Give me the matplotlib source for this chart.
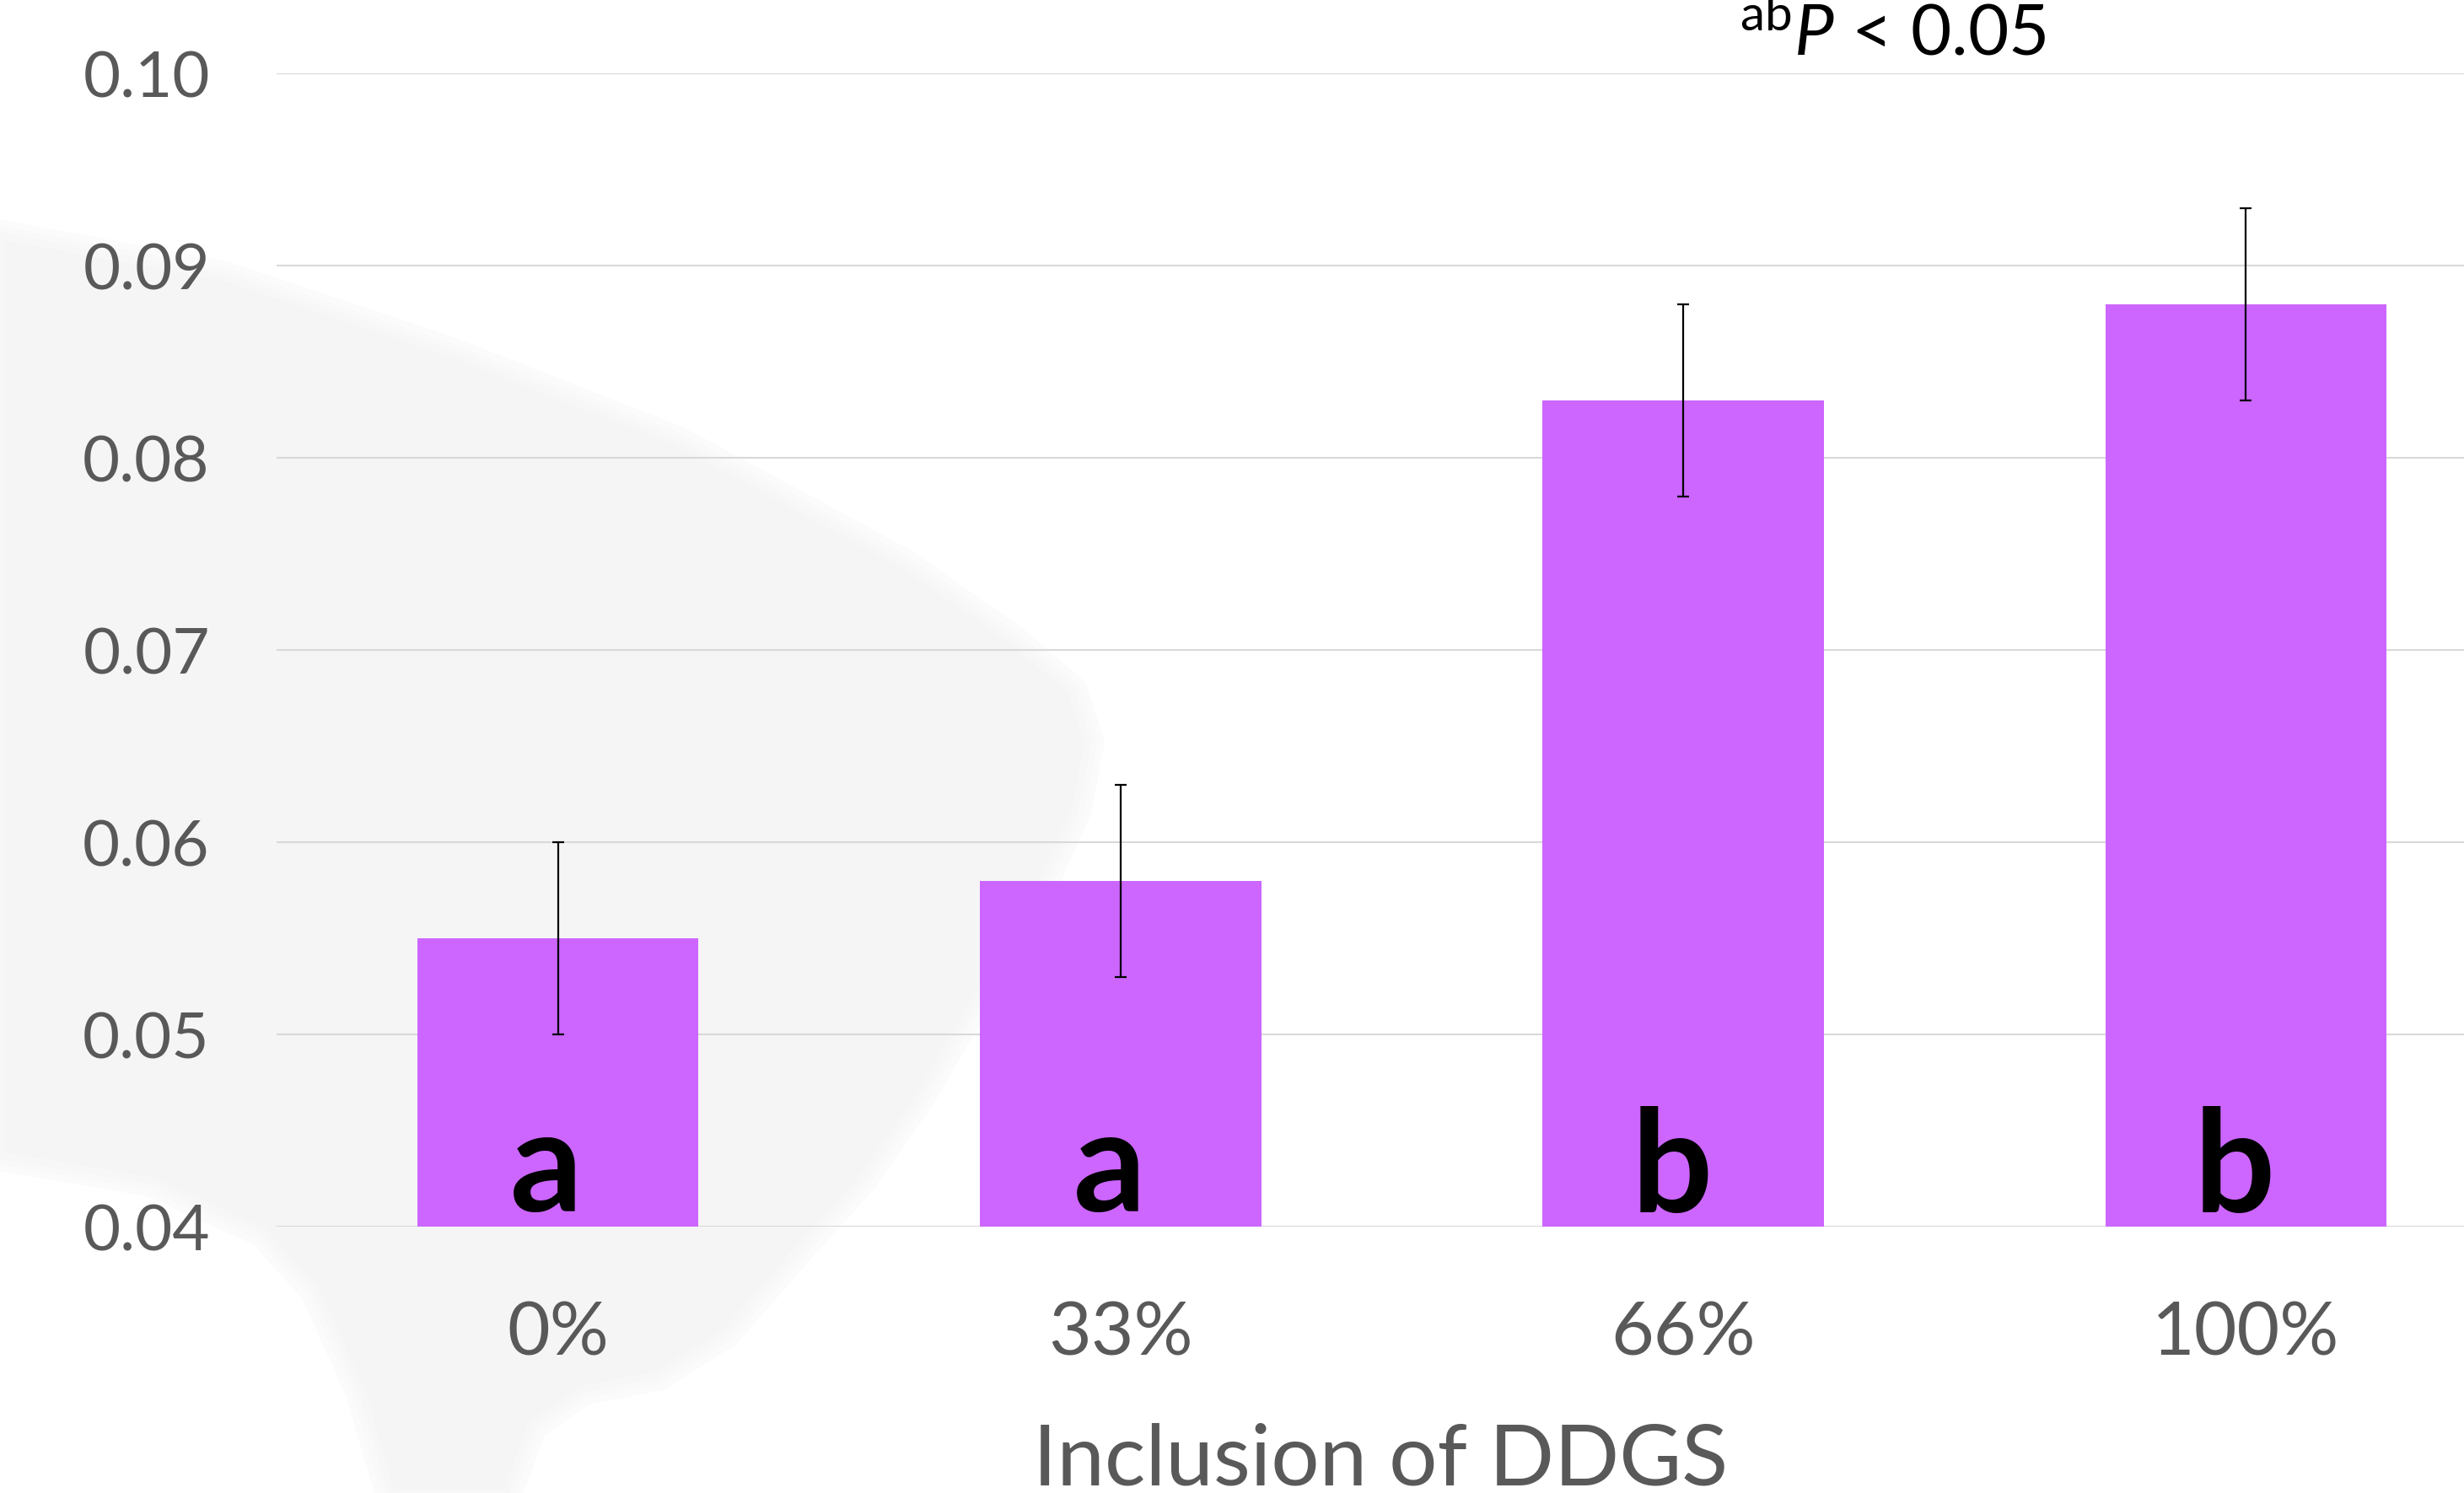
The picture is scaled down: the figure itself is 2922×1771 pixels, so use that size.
import matplotlib
matplotlib.use("Agg")
import matplotlib.pyplot as plt
from matplotlib.patches import Polygon

plt.rcParams['font.family'] = ['Lato', 'DejaVu Sans']
plt.rcParams['mathtext.fontset'] = 'custom'
plt.rcParams['mathtext.rm'] = 'Lato'
plt.rcParams['mathtext.it'] = 'Lato:italic'

# data
categories = ['0%', '33%', '66%', '100%']
means = [0.055, 0.058, 0.083, 0.088]
errors = [0.005, 0.005, 0.005, 0.005]
letters = ['a', 'a', 'b', 'b']
yticks = [0.04, 0.05, 0.06, 0.07, 0.08, 0.09, 0.10]

W, H = 2922, 1771
fig = plt.figure(figsize=(W / 100, H / 100), dpi=100)
fig.patch.set_facecolor('white')

# faint grey shape in the background (pixel outline, y from top)
shape_px = [(0, 280), (268, 330), (536, 420), (804, 525), (1071, 670), (1200, 760),
            (1270, 820), (1290, 880), (1275, 960), (1230, 1060), (1160, 1180),
            (1090, 1300), (1020, 1400), (950, 1477), (860, 1580), (780, 1630),
            (690, 1648), (630, 1690), (600, 1771), (464, 1771), (429, 1650),
            (375, 1530), (312, 1460), (179, 1400), (0, 1370)]
pts = [(x / W, 1 - y / H) for x, y in shape_px]
# soft edge: a few wide, lighter outlines under the fill
for lw, c in [(28, '#fbfbfb'), (16, '#f9f9f9'), (6, '#f7f7f7')]:
    fig.add_artist(Polygon(pts, closed=True, transform=fig.transFigure,
                           facecolor='#f5f5f5', edgecolor=c, linewidth=lw,
                           joinstyle='round', zorder=-5))

left, right = 328 / W, 2997 / W
bottom, top = 1 - 1455 / H, 1 - 87 / H
ax = fig.add_axes([left, bottom, right - left, top - bottom])
ax.set_facecolor('none')

x = list(range(len(categories)))
ax.bar(x, means, width=0.5, color='#cc66ff', zorder=2)
ax.errorbar(x, means, yerr=errors, fmt='none', ecolor='black',
            elinewidth=1.6, capsize=5, capthick=1.6, zorder=3)

for xi, lt in zip(x, letters):
    ax.text(xi - 0.02, 0.0408, lt, ha='center', va='baseline', fontsize=122,
            fontweight='bold', color='black', zorder=4)

ax.set_xlim(-0.5, 3.5)
ax.set_ylim(0.04, 0.10)
ax.set_yticks(yticks)
ax.set_yticklabels(['%.2f' % v for v in yticks])
ax.set_xticks(x)
ax.set_xticklabels(categories)
ax.tick_params(axis='y', length=0, pad=57, labelsize=55, labelcolor='#595959')
ax.tick_params(axis='x', length=0, pad=64, labelsize=63, labelcolor='#595959')
ax.grid(axis='y', color='#d9d9d9', linewidth=1.5, zorder=0)
ax.set_axisbelow(True)
for sp in ax.spines.values():
    sp.set_visible(False)

ax.set_xlabel('Inclusion of DDGS', fontsize=73, color='#595959')
ax.xaxis.label.set_va('baseline')
ax.xaxis.set_label_coords(0.4905, -0.2240)

fig.text(2063 / W, 1 - 65 / H, r'$^{\mathrm{ab}}\mathit{P}$ < 0.05',
         fontsize=60, color='black', ha='left', va='baseline')

fig.savefig('out.png', dpi=100)
